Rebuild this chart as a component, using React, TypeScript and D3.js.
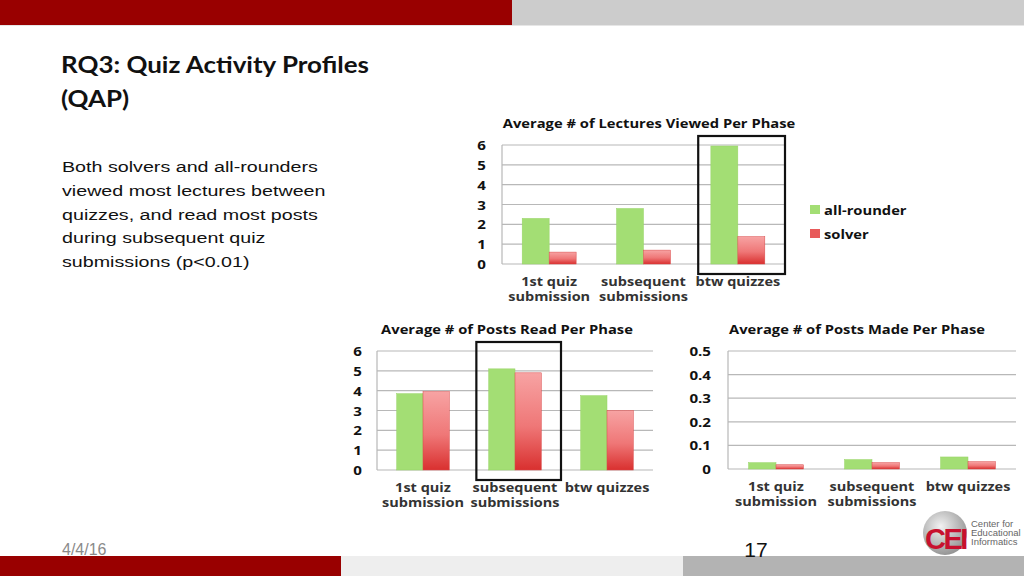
import React from "react";
import * as d3 from "d3";

const categories = ["1st quiz|submission", "subsequent|submissions", "btw quizzes"];
const seriesNames = ["all-rounder", "solver"];

const lecturesAllRounder = [2.3, 2.8, 5.95];
const lecturesSolver = [0.6, 0.7, 1.38];
const lecturesTicks = [0, 1, 2, 3, 4, 5, 6];

const postsReadAllRounder = [3.85, 5.1, 3.75];
const postsReadSolver = [3.95, 4.9, 3.0];
const postsReadTicks = [0, 1, 2, 3, 4, 5, 6];

const postsMadeAllRounder = [0.027, 0.04, 0.051];
const postsMadeSolver = [0.018, 0.027, 0.031];
const postsMadeTicks = [0, 0.1, 0.2, 0.3, 0.4, 0.5];

const bodyLines = [
  "Both solvers and all-rounders",
  "viewed most lectures between",
  "quizzes, and read most posts",
  "during subsequent quiz",
  "submissions (p<0.01)",
];

const GREEN = "#a3de74";
const CHART_FONT = "'Open Sans', 'DejaVu Sans', sans-serif";
const CSX = 1.18;

type STProps = {
  x: number;
  y: number;
  sx: number;
  anchor?: "start" | "middle" | "end";
  family: string;
  size: number;
  weight?: string;
  fill: string;
  children: React.ReactNode;
};

function SText(p: STProps) {
  return (
    <text
      transform={`translate(${p.x},${p.y}) scale(${p.sx},1)`}
      textAnchor={p.anchor || "start"}
      fontFamily={p.family}
      fontSize={p.size}
      fontWeight={p.weight || "normal"}
      fill={p.fill}
    >
      {p.children}
    </text>
  );
}

type ChartProps = {
  id: string;
  title: string;
  titleX: number;
  left: number;
  right: number;
  top: number;
  bottom: number;
  max: number;
  ticks: number[];
  fmt: (v: number) => string;
  a: number[];
  b: number[];
  highlight?: number;
  tickX: number;
};

function BarChart(p: ChartProps) {
  const x = d3.scaleBand<string>().domain(categories).range([p.left, p.right]).padding(0);
  const bw = x.bandwidth();
  const xs = d3.scaleBand<string>().domain(seriesNames).range([bw * 0.214, bw * 0.786]).padding(0);
  const y = d3.scaleLinear().domain([0, p.max]).range([p.bottom, p.top]);
  const vals = [p.a, p.b];
  return (
    <g>
      <defs>
        <linearGradient id={p.id + "-red"} x1="0" y1="0" x2="0" y2="1">
          <stop offset="0%" stopColor="#f7a3a3" />
          <stop offset="55%" stopColor="#ef7777" />
          <stop offset="100%" stopColor="#d9302f" />
        </linearGradient>
      </defs>
      <SText x={p.titleX} y={p.top - 17} sx={CSX} anchor="middle" family={CHART_FONT} weight="bold" size={12.5} fill="#111">
        {p.title}
      </SText>
      {p.ticks.map((t) => (
        <g key={t}>
          <line x1={p.left} x2={p.right} y1={y(t)} y2={y(t)} stroke="#b8b8b8" strokeWidth={1.2} />
          <SText x={p.tickX} y={y(t) + 5} sx={CSX} anchor="end" family={CHART_FONT} weight="bold" size={12.8} fill="#111">
            {p.fmt(t)}
          </SText>
        </g>
      ))}
      <line x1={p.left} x2={p.left} y1={p.top} y2={p.bottom} stroke="#b8b8b8" strokeWidth={1.2} />
      {categories.map((c, i) => (
        <g key={c}>
          {seriesNames.map((s, j) => {
            const v = vals[j][i];
            const x0 = (x(c) as number) + (xs(s) as number);
            return (
              <rect
                key={s}
                x={x0}
                y={y(v)}
                width={xs.bandwidth()}
                height={p.bottom - y(v)}
                fill={j === 0 ? GREEN : `url(#${p.id}-red)`}
                stroke={j === 0 ? "#97d366" : "#d94a4a"}
                strokeWidth={0.5}
              />
            );
          })}
          {c.split("|").map((ln, k) => (
            <SText
              key={k}
              x={(x(c) as number) + bw / 2}
              y={p.bottom + 22 + k * 15}
              sx={CSX}
              anchor="middle"
              family={CHART_FONT}
              weight="bold"
              size={12.3}
              fill="#333"
            >
              {ln}
            </SText>
          ))}
        </g>
      ))}
      {p.highlight !== undefined && (
        <rect
          x={(x(categories[p.highlight]) as number) + bw * 0.08}
          y={p.top - 9}
          width={bw * 0.92}
          height={p.bottom - p.top + 19}
          fill="none"
          stroke="#111"
          strokeWidth={2.2}
        />
      )}
    </g>
  );
}

export default function App() {
  const fmt0 = (v: number) => d3.format("d")(v);
  const fmt1 = (v: number) => (v === 0 ? "0" : d3.format(".1f")(v));
  const narrow = "'Liberation Sans Narrow', 'Liberation Sans', sans-serif";
  return (
    <svg width={1024} height={576} style={{ position: "absolute", left: 0, top: 0, background: "#fff" }}>
      <rect x={0} y={0} width={1024} height={576} fill="#fff" />
      {/* header */}
      <rect x={0} y={0} width={512} height={25} fill="#990000" />
      <rect x={512} y={0} width={512} height={25} fill="#cccccc" />
      <rect x={0} y={25} width={1024} height={1} fill="#e6e6e6" />
      {/* footer */}
      <rect x={0} y={556} width={341} height={20} fill="#990000" />
      <rect x={341} y={556} width={342} height={20} fill="#eeeeee" />
      <rect x={683} y={556} width={341} height={20} fill="#b3b3b3" />
      <text x={62} y={555} fontFamily={narrow} fontSize={16} fill="#8a8a8a">
        4/4/16
      </text>
      <text x={756} y={557} textAnchor="middle" fontFamily={narrow} fontSize={21} fill="#111">
        17
      </text>
      {/* logo */}
      <g>
        <defs>
          <radialGradient id="globe" cx="40%" cy="35%" r="70%">
            <stop offset="0%" stopColor="#f2f2f2" />
            <stop offset="100%" stopColor="#8f8f8f" />
          </radialGradient>
        </defs>
        <circle cx={945} cy={533} r={22} fill="url(#globe)" />
        <text x={925} y={549} fontFamily="'Liberation Sans', sans-serif" fontWeight="bold" fontSize={29} fill="#c8102e" letterSpacing={-2.5}>
          CEI
        </text>
        <text x={971} y={527} fontFamily={narrow} fontSize={9.5} fill="#666">Center for</text>
        <text x={971} y={536} fontFamily={narrow} fontSize={9.5} fill="#666">Educational</text>
        <text x={971} y={545} fontFamily={narrow} fontSize={9.5} fill="#666">Informatics</text>
      </g>
      {/* title */}
      <SText x={61} y={73} sx={1.18} family="Lato, 'Open Sans', sans-serif" weight="bold" size={22} fill="#111">
        RQ3: Quiz Activity Profiles
      </SText>
      <SText x={61} y={107} sx={1.18} family="Lato, 'Open Sans', sans-serif" weight="bold" size={22} fill="#111">
        (QAP)
      </SText>
      {bodyLines.map((l, i) => (
        <SText key={i} x={62} y={172 + i * 23.8} sx={1.27} family="'Liberation Sans', Arial, sans-serif" size={15.5} fill="#111">
          {l}
        </SText>
      ))}
      <BarChart
        id="lec"
        title="Average # of Lectures Viewed Per Phase"
        titleX={649}
        left={502}
        right={785}
        top={145}
        bottom={264}
        max={6}
        ticks={lecturesTicks}
        fmt={fmt0}
        a={lecturesAllRounder}
        b={lecturesSolver}
        highlight={2}
        tickX={486}
      />
      <g>
        <rect x={810} y={205} width={10} height={9} fill={GREEN} />
        <SText x={824} y={215} sx={CSX} family={CHART_FONT} weight="bold" size={12.5} fill="#111">
          {seriesNames[0]}
        </SText>
        <rect x={810} y={229} width={10} height={9} fill="#e85a5a" />
        <SText x={824} y={239} sx={CSX} family={CHART_FONT} weight="bold" size={12.5} fill="#111">
          {seriesNames[1]}
        </SText>
      </g>
      <BarChart
        id="read"
        title="Average # of Posts Read Per Phase"
        titleX={507}
        left={377}
        right={653}
        top={351}
        bottom={470}
        max={6}
        ticks={postsReadTicks}
        fmt={fmt0}
        a={postsReadAllRounder}
        b={postsReadSolver}
        highlight={1}
        tickX={362}
      />
      <BarChart
        id="made"
        title="Average # of Posts Made Per Phase"
        titleX={857}
        left={728}
        right={1016}
        top={351}
        bottom={469}
        max={0.5}
        ticks={postsMadeTicks}
        fmt={fmt1}
        a={postsMadeAllRounder}
        b={postsMadeSolver}
        tickX={711}
      />
    </svg>
  );
}
